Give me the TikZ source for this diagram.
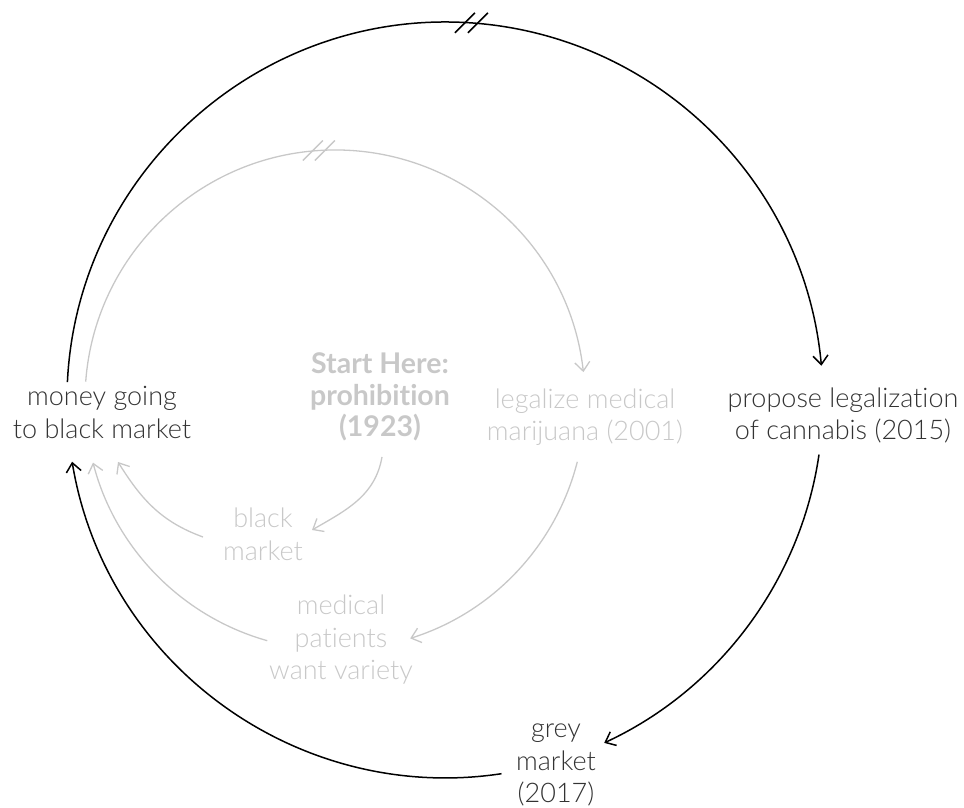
\documentclass[tikz,border=0pt]{standalone}
\usepackage{fontspec}
\setmainfont{Lato}[UprightFont=* Light, BoldFont=* Bold, Ligatures=NoCommon]
\usetikzlibrary{arrows.meta}
\definecolor{ink}{HTML}{333333}
\definecolor{faint}{HTML}{C8C8C8}
\begin{document}
\begin{tikzpicture}[x=1pt,y=1pt,
  txt/.style={align=center, inner sep=0pt, font=\fontsize{27}{32.5}\selectfont},
  darktxt/.style={txt, text=ink},
  lighttxt/.style={txt, text=faint},
  link/.style={-{Straight Barb[length=9pt,width=15pt]}},
  darklink/.style={link, draw=black, line width=1.5pt},
  lightlink/.style={link, draw=faint, line width=1.3pt},
  darkmark/.style={draw=black, line width=1.5pt},
  lightmark/.style={draw=faint, line width=1.3pt}]

\useasboundingbox (0,0) rectangle (964,807);

% outer loop labels
\node[darktxt] (money)   at (102,394.5) {money going\\to black market};
\node[darktxt] (propose) at (843,391.5) {propose legalization\\of cannabis (2015)};
\node[darktxt] (grey)    at (556,42)    {grey\\market\\(2017)};

% inner loop labels
\node[lighttxt, font=\fontsize{28.5}{31.5}\selectfont\bfseries] (start) at (380,410) {Start Here:\\prohibition\\(1923)};
\node[lighttxt] (legalize) at (585,390)   {legalize medical\\marijuana (2001)};
\node[lighttxt] (blackmkt) at (263,272.5) {black\\market};
\node[lighttxt] (medical)  at (341,167)   {medical\\patients\\want variety};

% delay points on the two big arcs
\coordinate (brkA) at (471.4,784.1);
\coordinate (brkB) at (318.9,656.5);

% outer loop
\draw[darklink] ([shift={(-34.6,30.3)}]money.center)
  to[out=87.3,in=176,looseness=1] (brkA)
  to[out=-4,in=95.2,looseness=0.967] ([shift={(-21.6,49.8)}]propose.center);
\draw[darklink] ([shift={(-24,-39.1)}]propose.center)
  to[out=-98.3,in=24.9,looseness=0.906] ([shift={(48.2,22.1)}]grey.center);
\draw[darklink] ([shift={(-54.5,-8.7)}]grey.center)
  to[out=188.6,in=279.4,looseness=0.99] ([shift={(-29.9,-49.2)}]money.center);

% inner loop
\draw[lightlink] ([shift={(-16.3,30.8)}]money.center)
  to[out=85.8,in=183.7,looseness=0.971] (brkB)
  to[out=3.7,in=96.4,looseness=0.988] ([shift={(-1.6,44.9)}]legalize.center);
\draw[lightlink] ([shift={(-7.7,-44.8)}]legalize.center)
  to[out=-104.3,in=17.5,looseness=0.909] ([shift={(69.2,1.6)}]medical.center);
\draw[lightlink] ([shift={(-73.7,-0.7)}]medical.center)
  to[out=164.3,in=284.5,looseness=0.91] ([shift={(-9,-50.1)}]money.center);
\draw[lightlink] ([shift={(2,-60)}]start.center)
  to[out=-100,in=30] ([shift={(49,4.5)}]blackmkt.center);
\draw[lightlink] ([shift={(-60,-2.5)}]blackmkt.center)
  to[out=160,in=-58] ([shift={(16,-49.5)}]money.center);

% delay marks
\draw[darkmark] ([shift={(-16.5,-10)}]brkA) -- ++(20,20);
\draw[darkmark] ([shift={(-3.5,-10)}]brkA) -- ++(20,20);
\draw[lightmark] ([shift={(-16,-10)}]brkB) -- ++(20,20);
\draw[lightmark] ([shift={(-4,-10)}]brkB) -- ++(20,20);
\end{tikzpicture}
\end{document}
